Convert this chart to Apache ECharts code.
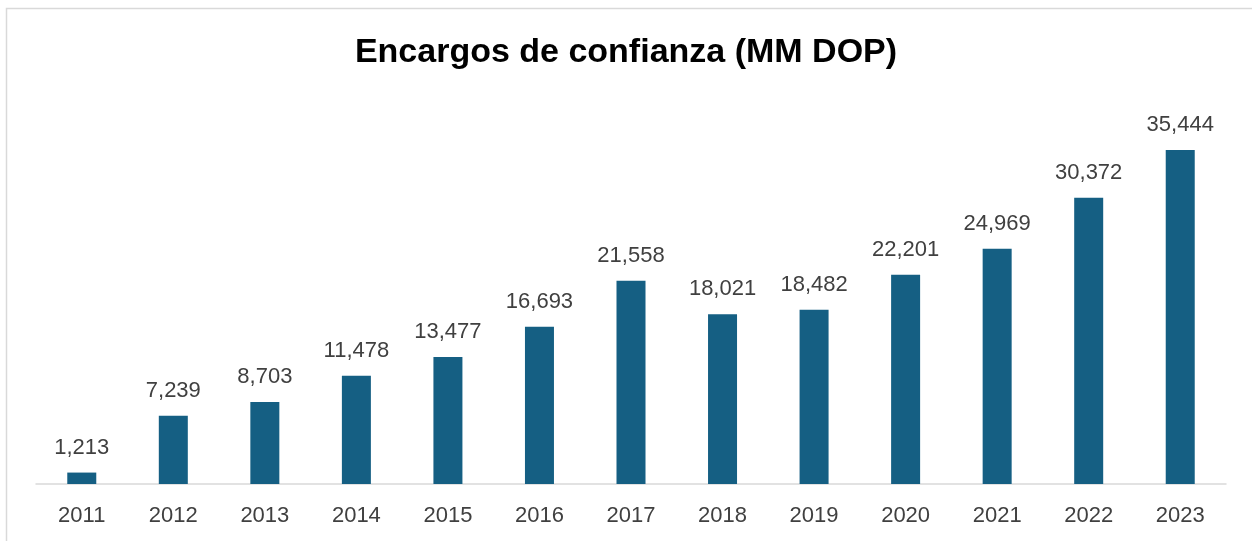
<!DOCTYPE html>
<html>
<head>
<meta charset="utf-8">
<script src="https://cdn.jsdelivr.net/npm/echarts@6/dist/echarts.min.js"></script>
<style>
  html, body { margin: 0; padding: 0; background: #fff; }
  #chart { width: 1252px; height: 541px; }
</style>
</head>
<body>
<div id="chart"></div>
<script>
const years = ['2011', '2012', '2013', '2014', '2015', '2016', '2017', '2018', '2019', '2020', '2021', '2022', '2023']
const encargos = [1213, 7239, 8703, 11478, 13477, 16693, 21558, 18021, 18482, 22201, 24969, 30372, 35444]

const chart = echarts.init(document.getElementById('chart'))

chart.setOption({
  backgroundColor: '#fff',
  animation: false,
  title: {
    text: 'Encargos de confianza (MM DOP)',
    left: 'center',
    top: 31,
    textStyle: { fontFamily: 'Liberation Sans', fontWeight: 'bold', fontSize: 34, color: '#000' }
  },
  // frame of the original chart area (cropped on right/bottom)
  graphic: [{
    type: 'rect',
    shape: { x: 6.5, y: 8.5, width: 1400, height: 700 },
    style: { fill: 'none', stroke: '#d9d9d9', lineWidth: 1.5 },
    silent: true
  }],
  grid: { left: 36, right: 26, top: 107, bottom: 57 },
  xAxis: {
    type: 'category',
    data: years,
    axisLine: { lineStyle: { color: '#d9d9d9', width: 1.5 } },
    axisTick: { show: false },
    axisLabel: { margin: 21, fontFamily: 'Liberation Sans', fontSize: 22, color: '#404040' }
  },
  yAxis: {
    type: 'value',
    min: 0,
    max: 40000,
    show: false,
    splitLine: { show: false }
  },
  series: [{
    type: 'bar',
    data: encargos,
    barWidth: 29,
    itemStyle: { color: '#155f83' },
    label: {
      show: true,
      position: 'top',
      distance: 14,
      fontFamily: 'Liberation Sans',
      fontSize: 22,
      color: '#404040',
      formatter: p => p.value.toLocaleString('en-US')
    }
  }]
})
</script>
</body>
</html>
